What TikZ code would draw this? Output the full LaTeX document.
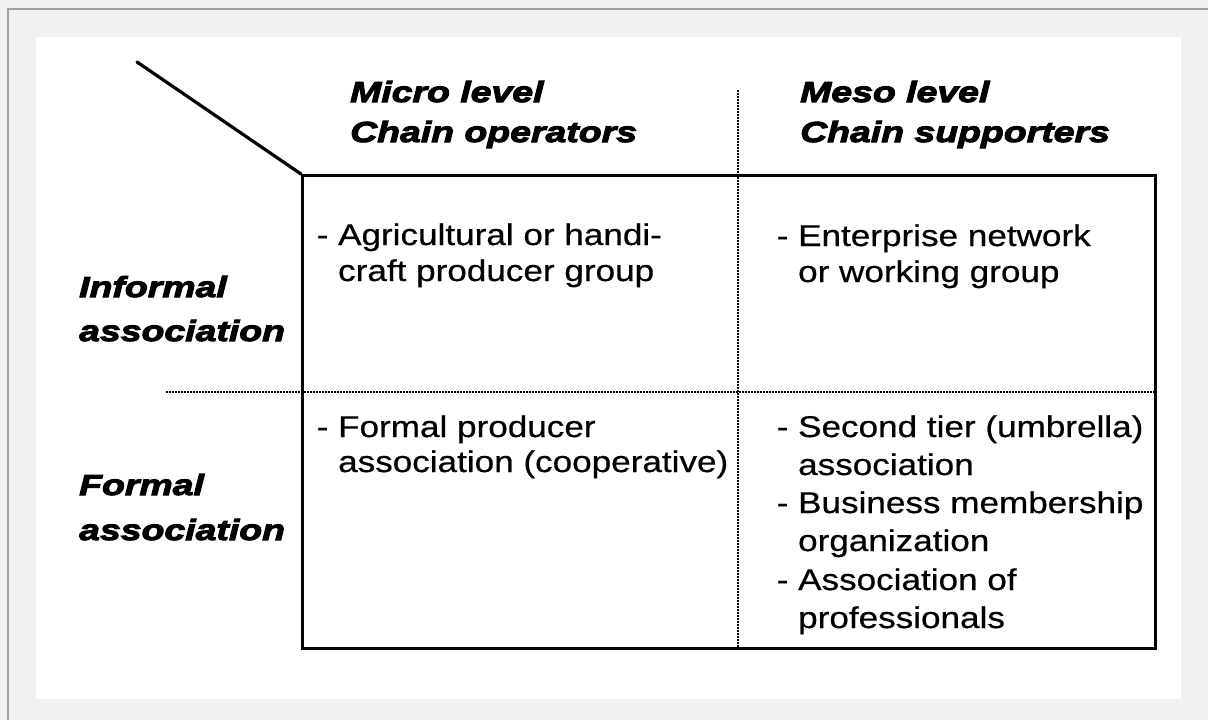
\documentclass[tikz,border=0pt]{standalone}
\usepackage{fontspec}
\setmainfont{Liberation Sans}
\newfontfamily\bodyfont{Liberation Sans}[FakeStretch=1.17,FakeBold=0.6]
\newfontfamily\headfont{Liberation Sans Bold Italic}[FakeStretch=1.29,FakeBold=3.5]
\definecolor{bggray}{HTML}{F1F1F1}
\definecolor{bordergray}{HTML}{A0A0A0}
\begin{document}
\begin{tikzpicture}[x=1pt,y=-1pt,
  hd/.style={anchor=base west, inner sep=0pt, font=\headfont\fontsize{29}{34}\selectfont},
  bd/.style={anchor=base west, inner sep=0pt, font=\bodyfont\fontsize{30}{36}\selectfont},
  frame/.style={line width=3.2pt},
  dotline/.style={line width=2.5pt, dash pattern=on 2pt off 1pt}]
\useasboundingbox (0,0) rectangle (1208,720);
\fill[bggray] (0,0) rectangle (1208,720);
\draw[bordergray, line width=1.5pt] (8,720) -- (8,9) -- (1208,9);
\fill[white] (36,37) rectangle (1181,699);

% dotted separators
\coordinate (vtop) at (738,90);
\coordinate (hleft) at (166,392);
\node[draw, frame, minimum width=853pt, minimum height=473pt, anchor=north west, inner sep=0pt] (box) at (301,174) {};
\draw[dotline] (vtop) -- (vtop |- box.south);
\draw[dotline] (hleft) -- (hleft -| box.east);
\coordinate (diag) at (137,62);
\draw[frame, line cap=round] (diag) -- (box.north west);

% column headers
\node[hd] (micro1) at (350,102) {Micro level};
\node[hd] (micro2) at (350,142) {Chain operators};
\node[hd] (meso1) at (800,102) {Meso level};
\node[hd] (meso2) at (800,142) {Chain supporters};

% row headers
\node[hd] (inf1) at (79,297) {Informal};
\node[hd] (inf2) at (79,341) {association};
\node[hd] (for1) at (79,495) {Formal};
\node[hd] (for2) at (79,540) {association};

% cells
\node[bd] (ul1) at (316.5,245) {- Agricultural or handi-};
\node[bd] (ul2) at (316.5,281) {\phantom{- }craft producer group};
\node[bd] (ur1) at (776.5,246) {- Enterprise network};
\node[bd] (ur2) at (776.5,282) {\phantom{- }or working group};
\node[bd] (ll1) at (316.5,437) {- Formal producer};
\node[bd] (ll2) at (316.5,472) {\phantom{- }association (cooperative)};
\node[bd] (lr1) at (776.5,437) {- Second tier (umbrella)};
\node[bd] (lr2) at (776.5,475) {\phantom{- }association};
\node[bd] (lr3) at (776.5,513) {- Business membership};
\node[bd] (lr4) at (776.5,551) {\phantom{- }organization};
\node[bd] (lr5) at (776.5,590) {- Association of};
\node[bd] (lr6) at (776.5,628) {\phantom{- }professionals};
\end{tikzpicture}
\end{document}
